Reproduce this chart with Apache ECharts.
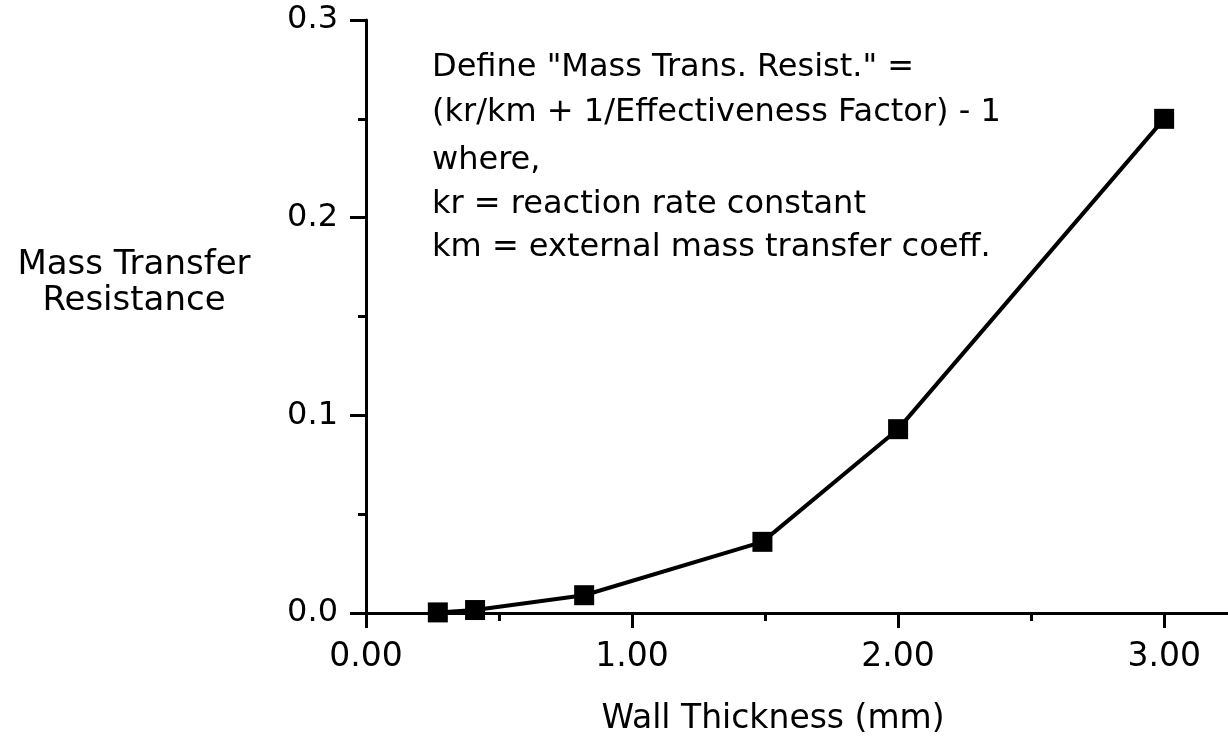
<!DOCTYPE html>
<html>
<head>
<meta charset="utf-8">
<script src="https://cdn.jsdelivr.net/npm/echarts@6/dist/echarts.min.js"></script>
<style>
  html, body { margin: 0; padding: 0; background: #fff; }
  #chart { width: 1228px; height: 746px; }
</style>
</head>
<body>
<div id="chart"></div>
<script>
// data
var wallThickness = [0.27, 0.41, 0.82, 1.49, 2.00, 3.00];
var resistance = [0.0003, 0.0015, 0.009, 0.036, 0.093, 0.250];
var xTickValues = [0, 1, 2, 3];

var xTitle = 'Wall Thickness (mm)';
var yTitle = 'Mass Transfer\nResistance';
var noteLines = [
    'Define "Mass Trans. Resist." =',
    '(kr/km + 1/Effectiveness Factor) - 1',
    'where,',
    'kr = reaction rate constant',
    'km = external mass transfer coeff.'
];

var FONT = '"DejaVu Sans", sans-serif';
var chart = echarts.init(document.getElementById('chart'));

var points = [];
for (var i = 0; i < wallThickness.length; i++) {
    points.push([wallThickness[i], resistance[i]]);
}

/* annotation block, line by line */
var noteY = [70, 115, 163, 207, 250];
var graphics = [];
for (var j = 0; j < noteLines.length; j++) {
    graphics.push({
        type: 'text',
        left: 432,
        top: noteY[j] - 18,
        style: { text: noteLines[j], font: '32px ' + FONT, fill: '#000' }
    });
}
graphics.push({
    type: 'text',
    x: 134,
    y: 283,
    style: {
        text: yTitle, font: '34px ' + FONT, fill: '#000',
        align: 'center', verticalAlign: 'middle', lineHeight: 36
    }
});

chart.setOption({
    backgroundColor: '#fff',
    animation: false,
    grid: { left: 366, top: 20, right: 0, bottom: 133, containLabel: false },
    xAxis: [
        {
            type: 'value',
            min: 0,
            max: 3.24,
            interval: 1,
            name: xTitle,
            nameLocation: 'middle',
            nameGap: 90,
            nameTextStyle: { fontFamily: FONT, fontSize: 33, color: '#000', padding: [0, 48, 0, 0] },
            axisLine: { show: true, onZero: false, lineStyle: { color: '#000', width: 3 } },
            axisTick: { show: true, length: 15, customValues: xTickValues, lineStyle: { color: '#000', width: 3 } },
            minorTick: { show: true, splitNumber: 2, length: 8, lineStyle: { color: '#000', width: 3 } },
            axisLabel: {
                margin: 28, fontFamily: FONT, fontSize: 33, color: '#000',
                showMaxLabel: false,
                formatter: function (v) { return v.toFixed(2); }
            },
            splitLine: { show: false }
        },
        {
            // top frame line
            type: 'value',
            position: 'top',
            min: 0,
            max: 3.24,
            axisLine: { show: true, lineStyle: { color: '#000', width: 3 } },
            axisTick: { show: false },
            axisLabel: { show: false },
            splitLine: { show: false }
        }
    ],
    yAxis: {
        type: 'value',
        min: 0,
        max: 0.3,
        interval: 0.1,
        axisLine: { show: true, onZero: false, lineStyle: { color: '#000', width: 3 } },
        axisTick: { show: true, length: 16, lineStyle: { color: '#000', width: 3 } },
        minorTick: { show: true, splitNumber: 2, length: 8, lineStyle: { color: '#000', width: 3 } },
        axisLabel: {
            margin: 28, fontFamily: FONT, fontSize: 32, color: '#000',
            formatter: function (v) { return v.toFixed(1); }
        },
        splitLine: { show: false }
    },
    graphic: graphics,
    series: [{
        type: 'line',
        xAxisIndex: 0,
        data: points,
        symbol: 'rect',
        symbolSize: 20,
        lineStyle: { color: '#000', width: 4 },
        itemStyle: { color: '#000' },
        z: 3
    }]
});

window.addEventListener('resize', function () { chart.resize(); });
</script>
</body>
</html>
